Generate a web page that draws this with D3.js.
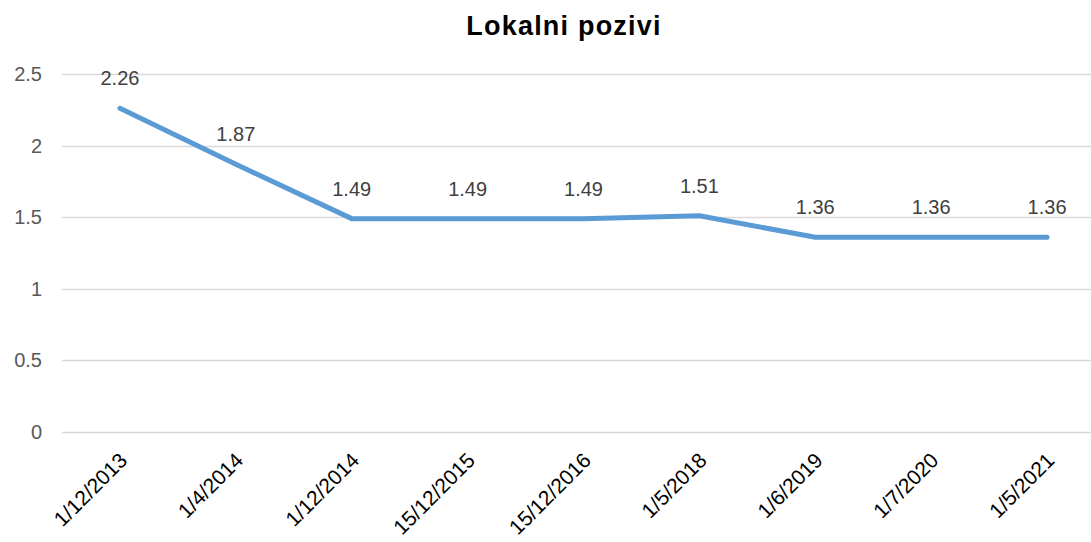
<!DOCTYPE html>
<html>
<head>
<meta charset="utf-8">
<script src="https://cdn.jsdelivr.net/npm/d3@7"></script>
<style>
  body { margin: 0; background: #fff; }
  svg { display: block; font-family: "Liberation Sans", Arial, sans-serif; }
</style>
</head>
<body>
<div id="chart"></div>
<script>
// Lokalni pozivi - line chart
const WIDTH = 1091;
const HEIGHT = 542;

const dates = ['1/12/2013', '1/4/2014', '1/12/2014', '15/12/2015', '15/12/2016', '1/5/2018', '1/6/2019', '1/7/2020', '1/5/2021'];
const prices = [2.26, 1.87, 1.49, 1.49, 1.49, 1.51, 1.36, 1.36, 1.36];
const yTicks = [0, 0.5, 1, 1.5, 2, 2.5];

const svg = d3.select('#chart')
  .append('svg')
  .attr('width', WIDTH)
  .attr('height', HEIGHT);

const x = d3.scaleBand()
  .domain(dates)
  .range([62, 1105])
  .padding(0);

const y = d3.scaleLinear()
  .domain([0, 2.5])
  .range([432, 74]);

const cx = d => x(d) + x.bandwidth() / 2;

// title
svg.append('text')
  .attr('x', 564)
  .attr('y', 35)
  .attr('text-anchor', 'middle')
  .style('font-size', '27px')
  .style('font-weight', 'bold')
  .style('letter-spacing', '1.2px')
  .attr('fill', '#000')
  .text('Lokalni pozivi');

// gridlines
svg.append('g')
  .selectAll('line')
  .data(yTicks)
  .join('line')
  .attr('x1', 62)
  .attr('x2', WIDTH)
  .attr('y1', d => Math.round(y(d)) + 0.5)
  .attr('y2', d => Math.round(y(d)) + 0.5)
  .attr('stroke', '#d9d9d9')
  .attr('stroke-width', 1.5);

// y labels
svg.append('g')
  .selectAll('text')
  .data(yTicks)
  .join('text')
  .attr('x', 42)
  .attr('y', d => y(d))
  .attr('dy', '0.35em')
  .attr('text-anchor', 'end')
  .attr('fill', '#595959')
  .style('font-size', '20px')
  .text(d => d);

// x labels, rotated
svg.append('g')
  .selectAll('text')
  .data(dates)
  .join('text')
  .attr('transform', d => `translate(${cx(d) - 2},${451}) rotate(-45)`)
  .attr('text-anchor', 'end')
  .attr('dy', '0.72em')
  .attr('fill', '#000')
  .style('font-size', '21px')
  .text(d => d);

// line
const line = d3.line()
  .x((d, i) => cx(dates[i]))
  .y(d => y(d));

svg.append('path')
  .datum(prices)
  .attr('d', line)
  .attr('fill', 'none')
  .attr('stroke', '#5b9bd5')
  .attr('stroke-width', 5)
  .attr('stroke-linecap', 'round')
  .attr('stroke-linejoin', 'round');

// data labels
svg.append('g')
  .selectAll('text')
  .data(prices)
  .join('text')
  .attr('x', (d, i) => cx(dates[i]))
  .attr('y', d => y(d) - 23)
  .attr('text-anchor', 'middle')
  .attr('fill', '#404040')
  .style('font-size', '20px')
  .text(d => d.toFixed(2));
</script>
</body>
</html>
